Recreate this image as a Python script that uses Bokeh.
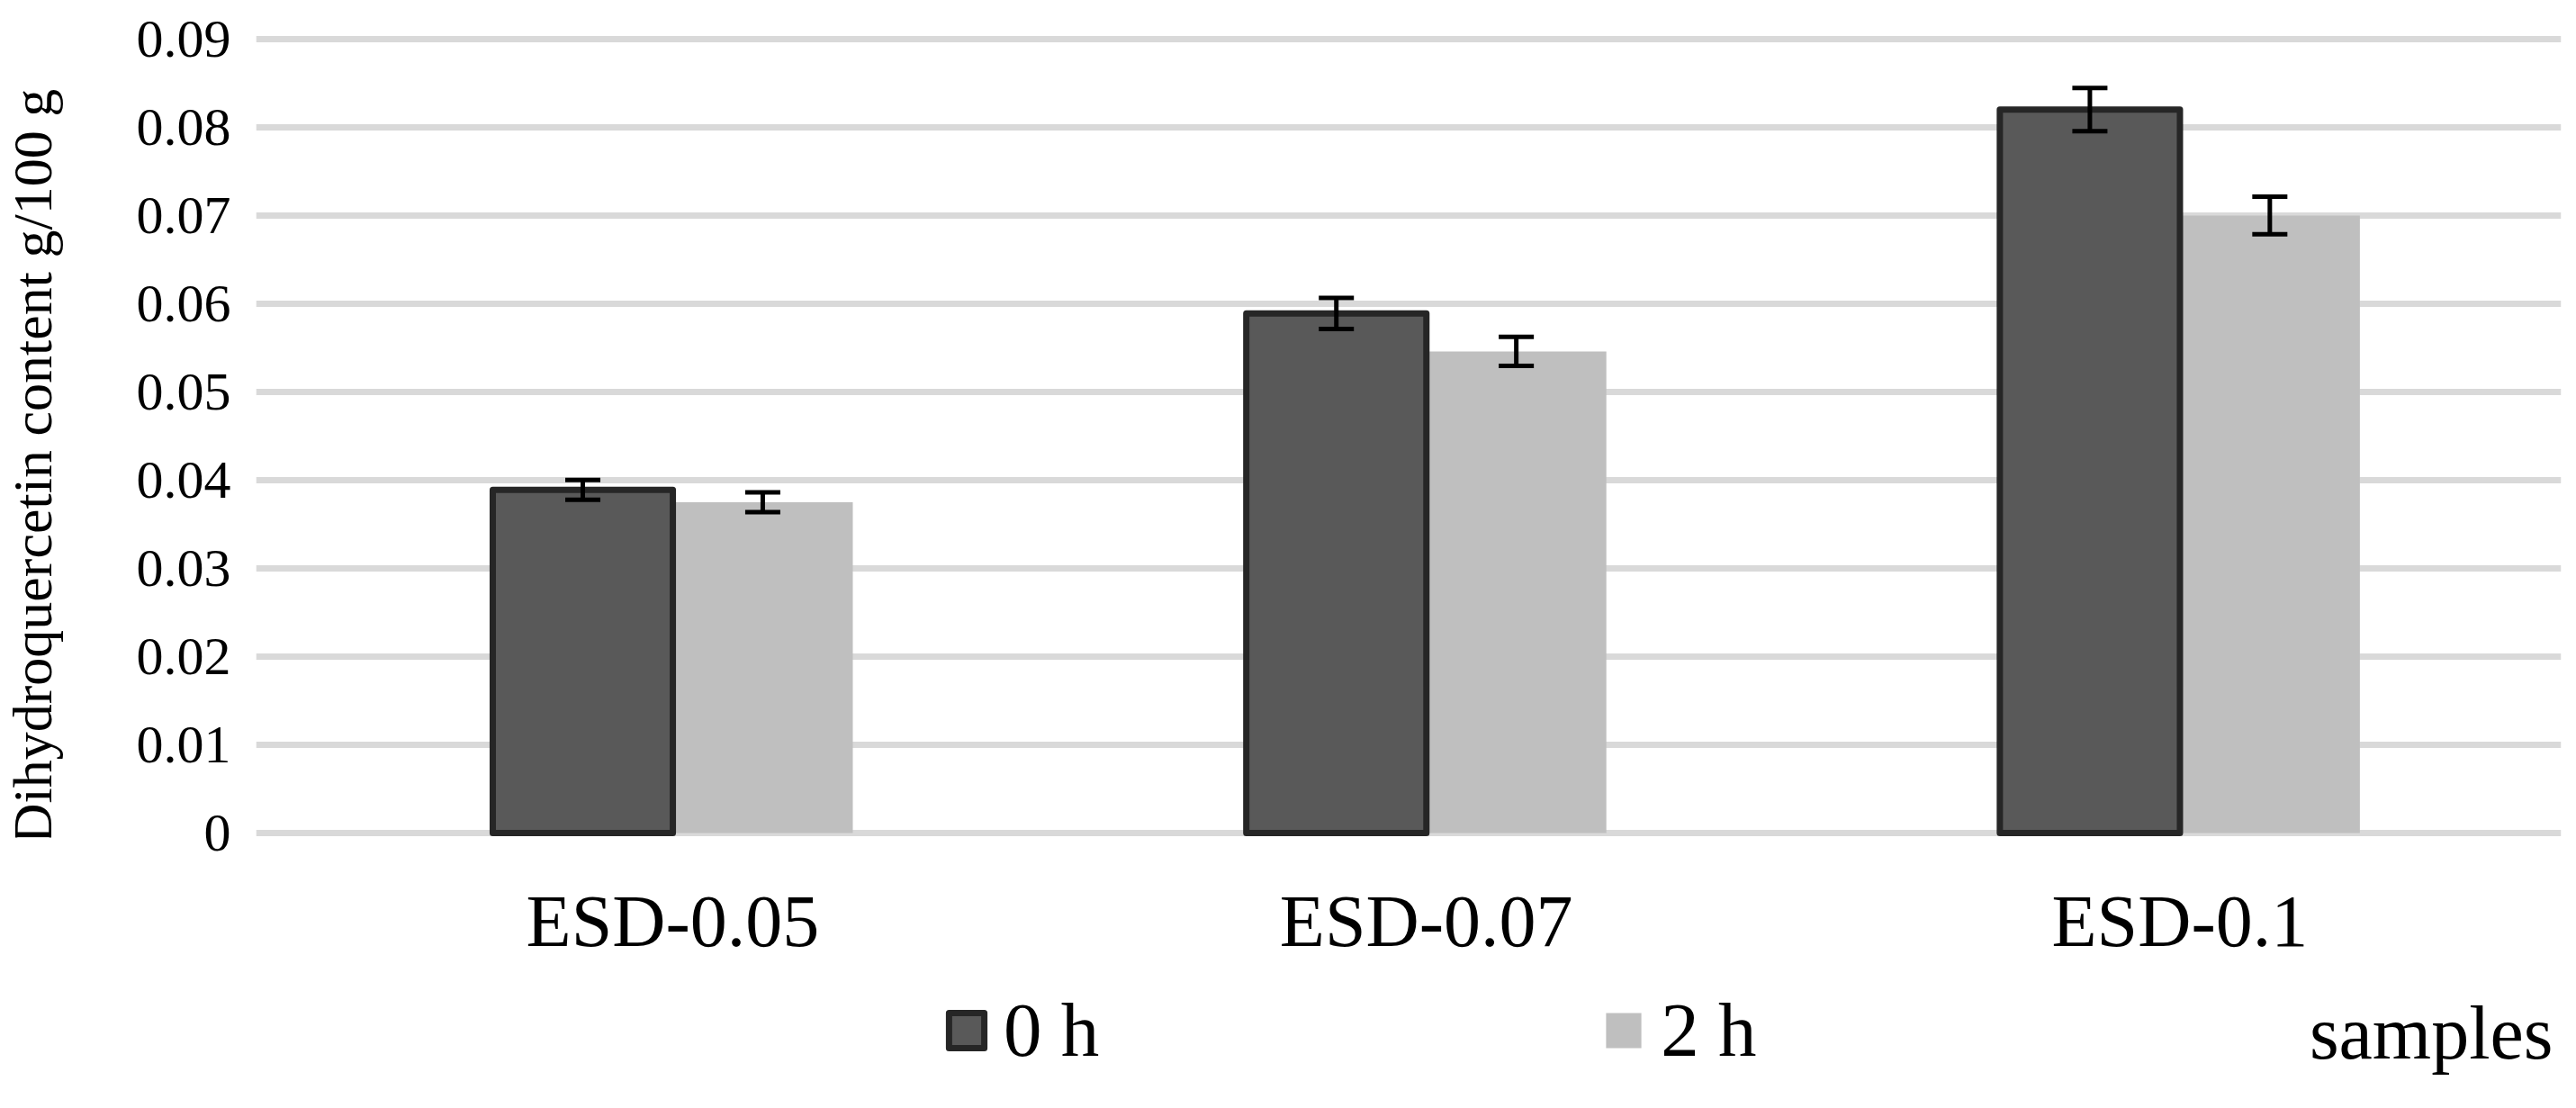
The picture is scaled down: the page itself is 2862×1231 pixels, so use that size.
import math
from bokeh.plotting import figure
from bokeh.layouts import column, row
from bokeh.models import (Range1d, FixedTicker, ColumnDataSource, Whisker, TeeHead,
                          Label, Legend, LegendItem)
from bokeh.embed import file_html
from bokeh.resources import INLINE

# ---- data ----
categories = ["ESD-0.05", "ESD-0.07", "ESD-0.1"]
series_names = ["0 h", "2 h"]
values_0h = [0.0389, 0.0589, 0.0820]
values_2h = [0.0375, 0.0546, 0.0700]
err_0h = [0.00113, 0.00175, 0.00245]
err_2h = [0.00112, 0.00165, 0.00213]
y_ticks = [0, 0.01, 0.02, 0.03, 0.04, 0.05, 0.06, 0.07, 0.08, 0.09]
y_tick_labels = ["0", "0.01", "0.02", "0.03", "0.04", "0.05", "0.06", "0.07", "0.08", "0.09"]
y_axis_title = "Dihydroquercetin  content g/100 g"
x_axis_title = "samples"

FONT = "Liberation Serif"
DARK = "#595959"
DARK_EDGE = "#262626"
LIGHT = "#bfbfbf"
W = 2846          # total width
TW = 72           # width of the y-title strip
H_MAIN = 1072     # height of the chart row
H_BOT = 123       # height of the legend strip

bar_w = 0.239
offset = 0.1194
idx = list(range(len(categories)))
x0 = [i - offset for i in idx]
x1 = [i + offset for i in idx]

src0 = ColumnDataSource(dict(x=x0, top=values_0h,
                             upper=[v + e for v, e in zip(values_0h, err_0h)],
                             lower=[v - e for v, e in zip(values_0h, err_0h)]))
src1 = ColumnDataSource(dict(x=x1, top=values_2h,
                             upper=[v + e for v, e in zip(values_2h, err_2h)],
                             lower=[v - e for v, e in zip(values_2h, err_2h)]))

p = figure(width=W - TW, height=H_MAIN, frame_width=2561, frame_height=892,
           min_border_left=284 - TW, min_border_right=1, min_border_top=38,
           min_border_bottom=H_MAIN - 38 - 892,
           x_range=Range1d(-0.553, 2.506), y_range=Range1d(-0.0005, 0.0905),
           output_backend="svg", toolbar_location=None, tools="")
p.outline_line_color = None
p.background_fill_color = "white"
p.border_fill_color = "white"

p.xgrid.visible = False
p.ygrid.grid_line_color = "#d9d9d9"
p.ygrid.grid_line_width = 7
p.ygrid.ticker = FixedTicker(ticks=y_ticks)

bar_light = dict(fill_color=LIGHT, line_color=None)
bar_dark = dict(fill_color=DARK, line_color=DARK_EDGE, line_width=7, line_join="round")

p.vbar(x="x", top="top", bottom=0, width=bar_w, source=src1, **bar_light)
p.vbar(x="x", top="top", bottom=0, width=bar_w, source=src0, **bar_dark)

for src in (src0, src1):
    w = Whisker(source=src, base="x", upper="upper", lower="lower",
                line_width=5, line_color="black", level="annotation",
                upper_head=TeeHead(size=39, line_width=5, line_color="black"),
                lower_head=TeeHead(size=39, line_width=5, line_color="black"))
    p.add_layout(w)

# y axis
p.yaxis.ticker = FixedTicker(ticks=y_ticks)
p.yaxis.major_label_overrides = dict(zip(y_ticks, y_tick_labels))
p.yaxis.axis_line_color = None
p.yaxis.major_tick_line_color = None
p.yaxis.minor_tick_line_color = None
p.yaxis.major_label_standoff = 22
p.yaxis.major_label_text_font = FONT
p.yaxis.major_label_text_font_size = "60px"
p.yaxis.major_label_text_color = "black"

# x axis
p.xaxis.ticker = FixedTicker(ticks=idx)
p.xaxis.major_label_overrides = {i: c for i, c in zip(idx, categories)}
p.xaxis.axis_line_color = None
p.xaxis.major_tick_line_color = None
p.xaxis.minor_tick_line_color = None
p.xaxis.major_label_standoff = 41
p.xaxis.major_label_text_font = FONT
p.xaxis.major_label_text_font_size = "82px"
p.xaxis.major_label_text_color = "black"

# ---- left strip: y-axis title ----
pt = figure(width=TW, height=H_MAIN, x_range=Range1d(0, TW), y_range=Range1d(0, H_MAIN),
            x_axis_type=None, y_axis_type=None, min_border=0,
            output_backend="svg", toolbar_location=None, tools="")
pt.grid.visible = False
pt.outline_line_color = None
pt.background_fill_color = "white"
pt.border_fill_color = "white"
pt.add_layout(Label(x=35, y=505, text=y_axis_title, angle=math.pi / 2,
                    text_align="center", text_baseline="middle",
                    text_font=FONT, text_font_size="62px", text_color="black"))

# ---- bottom strip: legend and "samples" ----
p2 = figure(width=W, height=H_BOT, x_range=Range1d(0, W), y_range=Range1d(0, H_BOT),
            x_axis_type=None, y_axis_type=None, min_border=0,
            output_backend="svg", toolbar_location=None, tools="")
p2.grid.visible = False
p2.outline_line_color = None
p2.background_fill_color = "white"
p2.border_fill_color = "white"

# legend keys reuse the series' data, the renderers themselves are hidden
k0 = p2.vbar(x="x", top="top", bottom=0, width=bar_w, source=src0, visible=False, **bar_dark)
k1 = p2.vbar(x="x", top="top", bottom=0, width=bar_w, source=src1, visible=False, **bar_light)

legend = Legend(items=[LegendItem(label=series_names[0], renderers=[k0]),
                       LegendItem(label=series_names[1], renderers=[k1])],
                orientation="horizontal", location=(1049, 2),
                glyph_width=49, glyph_height=49, label_height=49,
                label_standoff=17, spacing=558,
                padding=0, margin=0, border_line_color=None, background_fill_alpha=0,
                inactive_fill_alpha=0,
                label_text_font=FONT, label_text_font_size="85px", label_text_color="black")
p2.add_layout(legend, "center")

p2.add_layout(Label(x=2836, y=48, text=x_axis_title, text_align="right",
                    text_baseline="alphabetic", text_font=FONT, text_font_size="84px",
                    text_color="black"))

layout = column(row(pt, p, spacing=0), p2, spacing=0)
open("out.html", "w").write(file_html(layout, INLINE))
